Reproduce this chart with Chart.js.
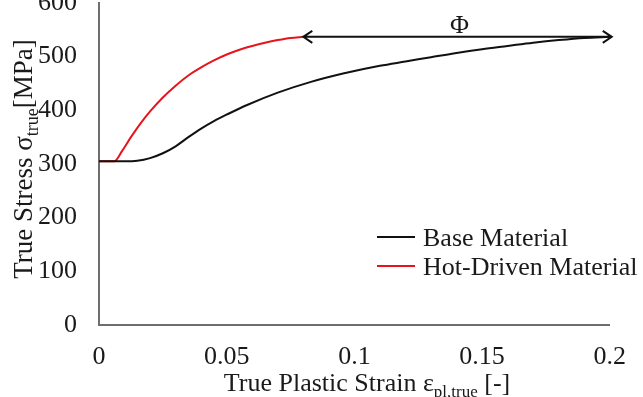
<!DOCTYPE html>
<html>
<head>
<meta charset="utf-8">
<script src="https://cdn.jsdelivr.net/npm/chart.js@4.4.0/dist/chart.umd.min.js"></script>
<style>
  html, body { margin: 0; padding: 0; background: #fff; overflow: hidden; }
  #wrap { position: absolute; left: 0; top: -12px; width: 643px; height: 409px; }
</style>
</head>
<body>
<div id="wrap"><canvas id="stress-strain"></canvas></div>
<script>
// values
var baseStrain = [0, 0.005, 0.01, 0.015, 0.02, 0.025, 0.03, 0.035, 0.04, 0.045, 0.05, 0.058, 0.07, 0.083, 0.096, 0.11, 0.12, 0.13, 0.14, 0.15, 0.16, 0.17, 0.18, 0.19, 0.2];
var baseStress = [305, 305, 305, 306, 311, 320, 333, 350, 366, 380, 392, 410, 433, 453, 469, 483, 491, 499, 507, 514, 520, 526, 531, 535, 537];
var hotStrain = [0, 0.006, 0.009, 0.0125, 0.016, 0.02, 0.025, 0.03, 0.035, 0.04, 0.045, 0.05, 0.055, 0.06, 0.065, 0.07, 0.075, 0.08];
var hotStress = [305, 305, 324, 350, 374, 398, 424, 446, 465, 480, 493, 504, 513, 520, 526, 531, 535, 537];
var seriesNames = ['Base Material', 'Hot-Driven Material'];
var seriesColors = ['#111111', '#e8141c'];
var xTicks = [0, 0.05, 0.1, 0.15, 0.2];
var yTicks = [0, 100, 200, 300, 400, 500, 600];
var phiFrom = 0.08, phiTo = 0.2, phiLevel = 537;

var FONT = '"Liberation Serif", "Times New Roman", serif';

function toPoints(xs, ys) {
    return xs.map(function (x, i) { return { x: x, y: ys[i] }; });
}

// draw a line of text made of normal and subscript pieces, centred on x
function drawRich(ctx, parts, x, y, size) {
    var total = 0;
    parts.forEach(function (p) {
        ctx.font = (p.sub ? Math.round(size * 0.65) : size) + 'px ' + FONT;
        p.w = ctx.measureText(p.t).width;
        total += p.w;
    });
    var cx = x - total / 2;
    parts.forEach(function (p) {
        ctx.font = (p.sub ? Math.round(size * 0.65) : size) + 'px ' + FONT;
        ctx.fillText(p.t, cx, p.sub ? y + size * 0.24 : y);
        cx += p.w;
    });
}

var extras = {
    id: 'extras',
    afterDraw: function (chart) {
        var ctx = chart.ctx;
        var xs = chart.scales.x, ys = chart.scales.y;
        ctx.save();
        ctx.fillStyle = '#1a1a1a';
        ctx.textBaseline = 'alphabetic';
        ctx.textAlign = 'left';

        // x title
        drawRich(ctx, [
            { t: 'True Plastic Strain ε' },
            { t: 'pl,true', sub: true },
            { t: ' [-]' }
        ], 367, 403, 26);

        // y title
        ctx.save();
        ctx.translate(32, 171);
        ctx.rotate(-Math.PI / 2);
        drawRich(ctx, [
            { t: 'True Stress σ' },
            { t: 'true', sub: true },
            { t: '[MPa]' }
        ], 0, 0, 27);
        ctx.restore();

        // legend
        chart.data.datasets.forEach(function (ds, i) {
            var ly = 249 + i * 29;
            ctx.strokeStyle = ds.borderColor;
            ctx.lineWidth = 2;
            ctx.beginPath();
            ctx.moveTo(377, ly);
            ctx.lineTo(415, ly);
            ctx.stroke();
            ctx.font = '26px ' + FONT;
            ctx.fillStyle = '#1a1a1a';
            ctx.fillText(ds.label, 423, ly + 9);
        });

        // double arrow with phi
        var x1 = xs.getPixelForValue(phiFrom), x2 = xs.getPixelForValue(phiTo) + 2;
        var ay = ys.getPixelForValue(phiLevel);
        ctx.strokeStyle = '#111';
        ctx.lineWidth = 2;
        ctx.beginPath();
        ctx.moveTo(x1, ay); ctx.lineTo(x2, ay);
        ctx.moveTo(x1 + 9, ay - 6); ctx.lineTo(x1, ay); ctx.lineTo(x1 + 9, ay + 6);
        ctx.moveTo(x2 - 9, ay - 6); ctx.lineTo(x2, ay); ctx.lineTo(x2 - 9, ay + 6);
        ctx.stroke();
        ctx.font = '26px ' + FONT;
        ctx.textAlign = 'center';
        ctx.fillText('Φ', (x1 + x2) / 2 + 2, ay - 4);
        ctx.restore();
    }
};

function noEdgePadding(scale) {
    scale.paddingTop = 0;
    scale.paddingBottom = 0;
}

var ctx = document.getElementById('stress-strain').getContext('2d');
var chart = new Chart(ctx, {
    type: 'scatter',
    data: {
        datasets: [
            {
                label: seriesNames[0],
                data: toPoints(baseStrain, baseStress),
                borderColor: seriesColors[0],
                showLine: true,
                borderWidth: 2,
                pointRadius: 0,
                cubicInterpolationMode: 'monotone'
            },
            {
                label: seriesNames[1],
                data: toPoints(hotStrain, hotStress),
                borderColor: seriesColors[1],
                showLine: true,
                borderWidth: 2,
                pointRadius: 0,
                cubicInterpolationMode: 'monotone'
            }
        ]
    },
    options: {
        responsive: true,
        maintainAspectRatio: false,
        animation: false,
        layout: { padding: { top: 15, right: 30, left: 0, bottom: 0 } },
        plugins: {
            legend: { display: false },
            tooltip: { enabled: false }
        },
        scales: {
            x: {
                type: 'linear',
                min: 0,
                max: 0.2,
                afterBuildTicks: function (scale) {
                    scale.ticks = xTicks.map(function (v) { return { value: v }; });
                },
                afterFit: function (scale) { scale.height = 72; },
                grid: { display: false, drawTicks: false },
                border: { color: '#6e6e6e', width: 2 },
                ticks: {
                    autoSkip: false,
                    maxRotation: 0,
                    padding: 17,
                    color: '#1a1a1a',
                    font: { family: FONT, size: 26 },
                    callback: function (v) { return String(+v.toFixed(2)); }
                }
            },
            y: {
                min: 0,
                max: 600,
                afterBuildTicks: function (scale) {
                    scale.ticks = yTicks.map(function (v) { return { value: v }; });
                },
                afterFit: function (scale) {
                    scale.width = 99;
                    noEdgePadding(scale);
                },
                grid: { display: false, drawTicks: false },
                border: { color: '#6e6e6e', width: 2 },
                ticks: {
                    autoSkip: false,
                    padding: 22,
                    color: '#1a1a1a',
                    font: { family: FONT, size: 26 }
                }
            }
        }
    },
    plugins: [extras]
});
</script>
</body>
</html>
